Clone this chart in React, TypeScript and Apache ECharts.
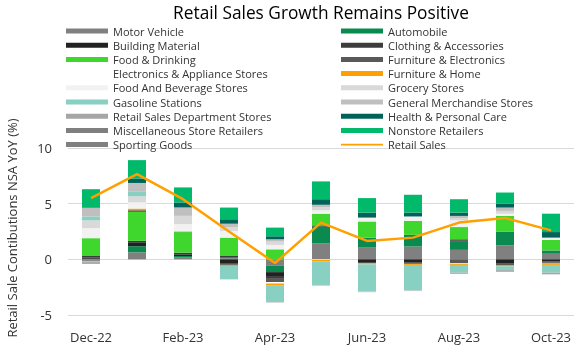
import React, { useEffect, useRef } from "react";
import * as echarts from "echarts";

const months = ["Dec-22", "Jan-23", "Feb-23", "Mar-23", "Apr-23", "May-23", "Jun-23", "Jul-23", "Aug-23", "Sep-23", "Oct-23"];

const motorVehicle = [-0.1, 0.63, 0.2, 0.1, -0.55, 1.45, 1.05, 1.15, 0.85, 1.25, 0.5];
const automobile = [0.05, 0.55, 0.1, 0.1, -0.6, 1.5, 0.9, 1.05, 0.75, 1.25, 0.3];
const buildingMaterial = [0.1, 0.3, 0.15, -0.4, -0.35, 0.05, -0.25, -0.3, 0.1, -0.35, -0.2];
const clothing = [0.15, 0.18, 0.15, 0.1, -0.25, 0.05, -0.1, -0.1, 0.1, -0.15, -0.1];
const foodDrinking = [1.6, 2.6, 1.85, 1.65, 0.9, 1.05, 1.45, 1.25, 1.1, 1.4, 0.95];
const furnitureElectronics = [-0.05, 0.15, 0.05, -0.1, -0.3, 0, 0, 0, -0.35, 0, -0.05];
const electronicsAppliance = [0, 0, 0, 0, -0.12, -0.05, 0, 0, -0.05, 0, 0];
const furnitureHome = [-0.05, 0.15, 0, -0.1, -0.15, -0.15, -0.1, -0.1, -0.1, -0.12, -0.15];
const foodBeverage = [0.9, 0.55, 0.66, 0.6, 0.4, 0.3, 0.35, 0.4, 0.6, 0.2, 0.2];
const grocery = [0.7, 0.55, 0.75, 0.35, 0.3, 0.3, 0, 0, 0.2, 0.25, 0];
const gasoline = [0.35, 0.45, 0, -1.2, -1.45, -2.1, -2.45, -2.3, -0.7, -0.35, -0.7];
const generalMerchandise = [0.8, 0.75, 0.75, 0.3, 0.2, 0.2, -0.05, -0.05, 0.2, 0.3, 0];
const departmentStores = [-0.1, 0, 0, 0, -0.1, -0.05, 0, 0, -0.1, -0.15, -0.15];
const healthCare = [0.05, 0.4, 0.45, 0.4, 0.27, 0.5, 0.45, 0.35, 0.3, 0.35, 0.5];
const miscellaneous = [-0.05, 0, 0, 0, 0, 0, 0, 0, 0, 0, 0];
const nonstore = [1.6, 1.65, 1.35, 1.05, 0.78, 1.6, 1.3, 1.6, 1.2, 1.0, 1.65];
const sportingGoods = [-0.05, 0, 0, 0, 0, 0, 0, 0, 0, 0, 0];
const retailSales = [5.5, 7.65, 5.4, 2.5, -0.33, 3.3, 1.65, 1.95, 3.3, 3.72, 2.6];

const yTicks = { min: -5, max: 10, interval: 5 };

const barSeries: [string, number[], string][] = [
  ["Motor Vehicle", motorVehicle, "#808080"],
  ["Automobile", automobile, "#0b8a4f"],
  ["Building Material", buildingMaterial, "#222222"],
  ["Clothing & Accessories", clothing, "#3c3c3c"],
  ["Food & Drinking", foodDrinking, "#3fd62e"],
  ["Furniture & Electronics", furnitureElectronics, "#595959"],
  ["Electronics & Appliance Stores", electronicsAppliance, "#ffffff"],
  ["Furniture & Home", furnitureHome, "#ff9f00"],
  ["Food And Beverage Stores", foodBeverage, "#f2f2f2"],
  ["Grocery Stores", grocery, "#d9d9d9"],
  ["Gasoline Stations", gasoline, "#88d0c2"],
  ["General Merchandise Stores", generalMerchandise, "#bfbfbf"],
  ["Retail Sales Department Stores", departmentStores, "#a6a6a6"],
  ["Health & Personal Care", healthCare, "#00635a"],
  ["Miscellaneous Store Retailers", miscellaneous, "#7f7f7f"],
  ["Nonstore Retailers", nonstore, "#00b96b"],
  ["Sporting Goods", sportingGoods, "#808080"],
];

const leftLegend = [
  "Motor Vehicle", "Building Material", "Food & Drinking", "Electronics & Appliance Stores",
  "Food And Beverage Stores", "Gasoline Stations", "Retail Sales Department Stores",
  "Miscellaneous Store Retailers", "Sporting Goods",
];
const rightLegend = [
  "Automobile", "Clothing & Accessories", "Furniture & Electronics", "Furniture & Home",
  "Grocery Stores", "General Merchandise Stores", "Health & Personal Care", "Nonstore Retailers",
  "Retail Sales",
];

const FONT = "Open Sans";
const LINE_ICON = "path://M0,0L0,0ZM0,5L0,5ZM0,1.6L42,1.6L42,3.4L0,3.4Z";

export default function App() {
  const ref = useRef<HTMLDivElement>(null);
  useEffect(() => {
    if (!ref.current) return;
    const chart = echarts.init(ref.current, null, { renderer: "svg" });
    const legendItem = (n: string) =>
      n === "Retail Sales"
        ? { name: n, icon: LINE_ICON, itemStyle: { color: "#ff9f00" } }
        : { name: n, icon: "rect" };
    const legendCommon = {
      orient: "vertical",
      top: 24,
      itemWidth: 42,
      itemHeight: 5,
      itemGap: 0.2,
      padding: 0,
      textStyle: { fontFamily: FONT, fontSize: 11, color: "#333", lineHeight: 14, padding: [0, 0, 0, 0] },
    };
    chart.setOption({
      animation: false,
      title: {
        text: "Retail Sales Growth Remains Positive",
        left: 321,
        textAlign: "center",
        top: 3,
        padding: 0,
        textStyle: { fontFamily: FONT, fontSize: 17.3, fontWeight: "normal", color: "#000", lineHeight: 19 },
      },
      legend: [
        { ...legendCommon, left: 66, data: leftLegend.map(legendItem) },
        { ...legendCommon, left: 341, data: rightLegend.map(legendItem) },
      ],
      graphic: [
        {
          type: "text",
          x: 12,
          y: 228,
          rotation: Math.PI / 2,
          style: {
            text: "Retail Sale Contibutions NSA YoY (%)",
            fontFamily: FONT,
            fontSize: 13,
            fill: "#333",
            textAlign: "center",
            textVerticalAlign: "middle",
          },
        },
      ],
      grid: { left: 68, right: 7, top: 148, bottom: 35 },
      xAxis: {
        type: "category",
        data: months,
        axisLine: { show: false },
        axisTick: { show: false },
        axisLabel: { interval: 1, fontFamily: FONT, fontSize: 13, color: "#333", margin: 15 },
      },
      yAxis: {
        type: "value",
        min: yTicks.min,
        max: yTicks.max,
        interval: yTicks.interval,
        axisLine: { show: false },
        axisTick: { show: false },
        splitLine: { lineStyle: { color: "#d9d9d9", width: 1 } },
        axisLabel: { fontFamily: FONT, fontSize: 13, color: "#333", margin: 16 },
      },
      series: [
        ...barSeries.map(([name, data, color]) => ({
          name,
          type: "bar",
          stack: "total",
          data,
          barWidth: 18,
          itemStyle: { color },
        })),
        {
          name: "Retail Sales",
          type: "line",
          data: retailSales,
          symbol: "none",
          z: 10,
          itemStyle: { color: "#ff9f00" },
          lineStyle: { color: "#ff9f00", width: 2.5 },
        },
      ],
    });
    return () => chart.dispose();
  }, []);
  return <div ref={ref} style={{ position: "fixed", left: 0, top: 0, width: 581, height: 350 }} />;
}
